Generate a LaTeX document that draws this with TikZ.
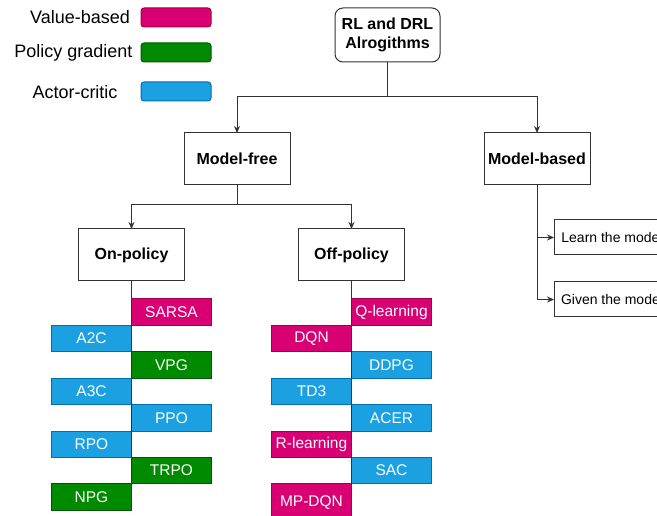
\documentclass[tikz,border=0pt]{standalone}
\usepackage{fontspec}
\setmainfont{Liberation Sans}
\usetikzlibrary{arrows.meta}
\definecolor{vbfill}{HTML}{D80073}
\definecolor{vbline}{HTML}{A50040}
\definecolor{pgfillc}{HTML}{008A00}
\definecolor{pgline}{HTML}{005700}
\definecolor{acfill}{HTML}{1BA1E2}
\definecolor{acline}{HTML}{006EAF}
\definecolor{edge}{HTML}{333333}
\tikzset{
  box/.style={draw=edge, line width=1pt, fill=white, inner sep=0pt, outer sep=0pt,
    minimum width=106pt, minimum height=52pt, font=\fontsize{16}{19}\selectfont\bfseries, align=center},
  rootbox/.style={box, rounded corners=8pt, minimum width=105pt, minimum height=54pt},
  leaf/.style={draw=edge, line width=1pt, fill=white, inner sep=0pt, outer sep=0pt,
    minimum width=116pt, minimum height=35pt, font=\fontsize{14}{17}\selectfont, anchor=north west},
  algo/.style={line width=1pt, inner sep=0pt, outer sep=0pt, text=white,
    minimum width=80pt, minimum height=26.4pt, font=\fontsize{15.5}{18}\selectfont},
  vb/.style={algo, fill=vbfill, draw=vbline},
  pg/.style={algo, fill=pgfillc, draw=pgline},
  ac/.style={algo, fill=acfill, draw=acline},
  rside/.style={anchor=north west},
  lside/.style={anchor=north east},
  legtext/.style={inner sep=0pt, font=\fontsize{18}{21}\selectfont},
  legbox/.style={line width=1pt, rounded corners=3pt, minimum width=70pt, minimum height=19pt, inner sep=0pt},
  link/.style={draw=edge, line width=1pt},
  arr/.style={link, -{Stealth[length=7pt,width=6pt]}}
}
\begin{document}
\begin{tikzpicture}[x=1pt,y=-1pt]
\useasboundingbox (0,0) rectangle (657,516);
\clip (0,0) rectangle (657,516);

% legend
\node[legtext] (lvb) at (80,17.5) {Value-based};
\node[legtext] (lpg) at (73.5,52.5) {Policy gradient};
\node[legtext] (lac) at (75,92) {Actor-critic};
\node[legbox, fill=vbfill, draw=vbline] (kvb) at (176,17.5) {};
\node[legbox, fill=pgfillc, draw=pgline] (kpg) at (176,52.5) {};
\node[legbox, fill=acfill, draw=acline] (kac) at (176,91.5) {};

% hierarchy
\node[rootbox] (root) at (387.5,35) {RL and DRL\\Alrogithms};
\node[box] (free) at (237,159) {Model-free};
\node[box] (based) at (537,159) {Model-based};
\node[box] (onp) at (131.5,255) {On-policy};
\node[box] (offp) at (351.5,255) {Off-policy};

\coordinate (j1) at (387.5,97);
\draw[link] (root.south) -- (j1);
\draw[arr] (j1) -| (free.north);
\draw[arr] (j1) -| (based.north);

\coordinate (j2) at (237,205);
\draw[link] (free.south) -- (j2);
\draw[arr] (j2) -| (onp.north);
\draw[arr] (j2) -| (offp.north);

% model-based branches
\node[leaf] (learn) at (554,220) {Learn the model};
\node[leaf] (given) at (554,282) {Given the model};
\draw[arr] (based.south) |- (learn.west);
\draw[arr] (based.south) |- (given.west);

% on-policy algorithms
\node[vb, rside] (sarsa) at (131.5,299) {SARSA};
\node[ac, lside] (a2c) at (131.5,325.4) {A2C};
\node[pg, rside] (vpg) at (131.5,351.8) {VPG};
\node[ac, lside] (a3c) at (131.5,378.2) {A3C};
\node[ac, rside] (ppo) at (131.5,404.6) {PPO};
\node[ac, lside] (rpo) at (131.5,431) {RPO};
\node[pg, rside] (trpo) at (131.5,457.4) {TRPO};
\node[pg, lside] (npg) at (131.5,483.8) {NPG};
\draw[link] (onp.south) -- (npg.south east);

% off-policy algorithms
\node[vb, rside] (qlearn) at (351.5,299) {Q-learning};
\node[vb, lside] (dqn) at (351.5,325.4) {DQN};
\node[ac, rside] (ddpg) at (351.5,351.8) {DDPG};
\node[ac, lside] (td3) at (351.5,378.2) {TD3};
\node[ac, rside] (acer) at (351.5,404.6) {ACER};
\node[vb, lside] (rlearn) at (351.5,431) {R-learning};
\node[ac, rside] (sac) at (351.5,457.4) {SAC};
\node[vb, lside, minimum height=38pt] (mpdqn) at (351.5,483.8) {MP-DQN};
\draw[link] (offp.south) -- (mpdqn.north east);
\end{tikzpicture}
\end{document}
